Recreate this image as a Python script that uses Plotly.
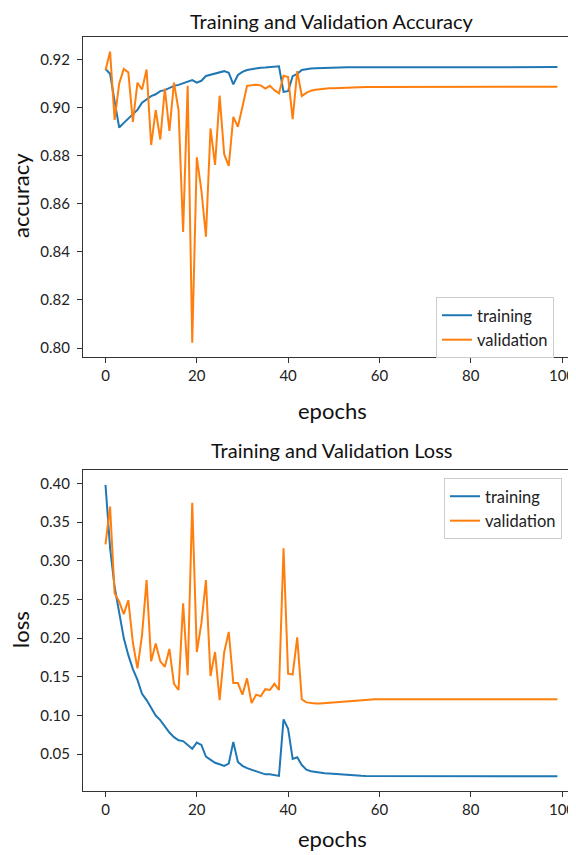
import plotly.graph_objects as go

epochs = list(range(100))

train_acc = [
    0.9160, 0.9140, 0.9025, 0.8917, 0.8936, 0.8953, 0.8972, 0.8990, 0.9020, 0.9035,
    0.9047, 0.9055, 0.9068, 0.9072, 0.9082, 0.9090, 0.9094, 0.9100, 0.9105, 0.9114,
    0.9103, 0.9111, 0.9131, 0.9136, 0.9144, 0.9147, 0.9151, 0.9144, 0.9096, 0.9135,
    0.9148, 0.9156, 0.9160, 0.9164, 0.9165, 0.9166, 0.9168, 0.9169, 0.9171, 0.9065,
    0.9068, 0.9130, 0.9140, 0.9156, 0.9160, 0.9162, 0.9163, 0.9164, 0.9165, 0.9165,
    0.9166, 0.9166, 0.9166, 0.9167, 0.9167, 0.9167, 0.9168, 0.9168, 0.9168, 0.9168,
    0.9168, 0.9168, 0.9168, 0.9168, 0.9168, 0.9168, 0.9168, 0.9168, 0.9168, 0.9168,
    0.9168, 0.9168, 0.9168, 0.9168, 0.9168, 0.9168, 0.9168, 0.9168, 0.9168, 0.9168,
    0.9168, 0.9168, 0.9168, 0.9168, 0.9168, 0.9168, 0.9168, 0.9168, 0.9168, 0.9168,
    0.9168, 0.9168, 0.9168, 0.9168, 0.9168, 0.9168, 0.9168, 0.9168, 0.9168, 0.9168,
]

val_acc = [
    0.9155, 0.9232, 0.8948, 0.9100, 0.9160, 0.9146, 0.8940, 0.9103, 0.9075, 0.9158,
    0.8844, 0.8989, 0.8867, 0.9079, 0.8903, 0.9103, 0.8989, 0.8483, 0.9090, 0.8022,
    0.8793, 0.8657, 0.8463, 0.8913, 0.8761, 0.9049, 0.8806, 0.8757, 0.8961, 0.8920,
    0.9003, 0.9090, 0.9092, 0.9095, 0.9092, 0.9079, 0.9090, 0.9072, 0.9059, 0.9132,
    0.9127, 0.8952, 0.9151, 0.9048, 0.9061, 0.9070, 0.9074, 0.9077, 0.9079, 0.9080,
    0.9080, 0.9081, 0.9082, 0.9083, 0.9083, 0.9084, 0.9084, 0.9085, 0.9085, 0.9085,
    0.9085, 0.9086, 0.9086, 0.9086, 0.9086, 0.9086, 0.9086, 0.9086, 0.9086, 0.9086,
    0.9086, 0.9086, 0.9086, 0.9086, 0.9086, 0.9086, 0.9086, 0.9086, 0.9086, 0.9086,
    0.9086, 0.9086, 0.9086, 0.9086, 0.9086, 0.9086, 0.9086, 0.9086, 0.9086, 0.9086,
    0.9086, 0.9086, 0.9086, 0.9086, 0.9086, 0.9086, 0.9086, 0.9086, 0.9086, 0.9086,
]

train_loss = [
    0.398, 0.317, 0.266, 0.232, 0.200, 0.178, 0.160, 0.146, 0.128, 0.120,
    0.109, 0.100, 0.094, 0.086, 0.078, 0.072, 0.068, 0.067, 0.062, 0.057,
    0.065, 0.062, 0.047, 0.043, 0.039, 0.037, 0.035, 0.038, 0.066, 0.040,
    0.035, 0.032, 0.030, 0.028, 0.026, 0.024, 0.024, 0.023, 0.022, 0.095,
    0.083, 0.044, 0.046, 0.036, 0.030, 0.028, 0.027, 0.026, 0.0255, 0.025,
    0.0245, 0.024, 0.0235, 0.023, 0.0228, 0.0225, 0.0222, 0.022, 0.022, 0.022,
    0.022, 0.022, 0.022, 0.022, 0.022, 0.022, 0.022, 0.022, 0.022, 0.022,
    0.0218, 0.0218, 0.0218, 0.0218, 0.0218, 0.0218, 0.0218, 0.0218, 0.0218, 0.0218,
    0.0216, 0.0216, 0.0216, 0.0216, 0.0216, 0.0216, 0.0216, 0.0216, 0.0216, 0.0216,
    0.0216, 0.0216, 0.0216, 0.0216, 0.0216, 0.0216, 0.0216, 0.0216, 0.0216, 0.0216,
]

val_loss = [
    0.321, 0.370, 0.258, 0.247, 0.231, 0.249, 0.194, 0.161, 0.204, 0.275,
    0.170, 0.193, 0.170, 0.163, 0.186, 0.141, 0.133, 0.245, 0.152, 0.375,
    0.182, 0.219, 0.275, 0.151, 0.182, 0.120, 0.182, 0.208, 0.142, 0.142,
    0.127, 0.148, 0.116, 0.127, 0.125, 0.134, 0.133, 0.141, 0.133, 0.316,
    0.154, 0.153, 0.201, 0.121, 0.117, 0.116, 0.1155, 0.1155, 0.116, 0.1165,
    0.117, 0.1175, 0.118, 0.1185, 0.119, 0.1195, 0.120, 0.1205, 0.121, 0.121,
    0.121, 0.121, 0.121, 0.121, 0.121, 0.121, 0.121, 0.121, 0.121, 0.121,
    0.121, 0.121, 0.121, 0.121, 0.121, 0.121, 0.121, 0.121, 0.121, 0.121,
    0.121, 0.121, 0.121, 0.121, 0.121, 0.121, 0.121, 0.121, 0.121, 0.121,
    0.121, 0.121, 0.121, 0.121, 0.121, 0.121, 0.121, 0.121, 0.121, 0.121,
]

acc_ticks = [0.80, 0.82, 0.84, 0.86, 0.88, 0.90, 0.92]
loss_ticks = [0.05, 0.10, 0.15, 0.20, 0.25, 0.30, 0.35, 0.40]
epoch_ticks = [0, 20, 40, 60, 80, 100]

BLUE = "#1f77b4"
ORANGE = "#ff7f0e"
FONT = "Lato, 'Open Sans', sans-serif"

# page has an 8px body margin: figure size and positions are offset accordingly
OFF = 8
W, H = 576 - OFF, 855 - OFF


def px(x):
    return (x - OFF) / W


def py(y):
    return 1 - (y - OFF) / H


fig = go.Figure()
fig.add_trace(go.Scatter(x=epochs, y=train_acc, mode="lines", name="training",
                         line=dict(color=BLUE, width=2), xaxis="x", yaxis="y", legend="legend"))
fig.add_trace(go.Scatter(x=epochs, y=val_acc, mode="lines", name="validation",
                         line=dict(color=ORANGE, width=2), xaxis="x", yaxis="y", legend="legend"))
fig.add_trace(go.Scatter(x=epochs, y=train_loss, mode="lines", name="training",
                         line=dict(color=BLUE, width=2), xaxis="x2", yaxis="y2", legend="legend2"))
fig.add_trace(go.Scatter(x=epochs, y=val_loss, mode="lines", name="validation",
                         line=dict(color=ORANGE, width=2), xaxis="x2", yaxis="y2", legend="legend2"))

x0 = 105.5
ppe = 4.565
xr = [(83 - x0) / ppe, (576 - x0) / ppe]

axis_common = dict(showgrid=False, zeroline=False, showline=True, linecolor="#333333", linewidth=1.2,
                   ticks="outside", ticklen=5, tickwidth=1, tickcolor="#333333",
                   tickfont=dict(family=FONT, size=15, color="#222222"), automargin=False)

top_dom = [py(356.5), py(37)]
bot_dom = [py(791), py(470)]
xdom = [px(83), 1.0]

legend_style = dict(xanchor="left", yanchor="top",
                    bgcolor="rgba(255,255,255,0.85)", bordercolor="#cccccc", borderwidth=1,
                    font=dict(family=FONT, size=16.5, color="#222222"))

fig.update_layout(
    width=W, height=H,
    margin=dict(l=0, r=0, t=0, b=0),
    paper_bgcolor="white", plot_bgcolor="white",
    font=dict(family=FONT, color="#222222"),
    xaxis=dict(domain=xdom, anchor="y", range=xr, tickvals=epoch_ticks, mirror=True, **axis_common),
    yaxis=dict(domain=top_dom, anchor="x", range=[0.7965, 0.9293], tickvals=acc_ticks,
               tickformat=".2f", ticklabelstandoff=4, **axis_common),
    xaxis2=dict(domain=xdom, anchor="y2", range=xr, tickvals=epoch_ticks, mirror=True, **axis_common),
    yaxis2=dict(domain=bot_dom, anchor="x2", range=[0.0025, 0.4172], tickvals=loss_ticks,
                tickformat=".2f", ticklabelstandoff=4, **axis_common),
    legend=dict(x=px(436), y=py(297), **legend_style),
    legend2=dict(x=px(444), y=py(478), **legend_style),
)

cx = px(332)
annos = [
    dict(text="Training and Validation Accuracy", x=cx, y=py(21), size=20, angle=0),
    dict(text="epochs", x=cx, y=py(410), size=22, angle=0),
    dict(text="accuracy", x=px(20), y=py(196), size=22, angle=-90),
    dict(text="Training and Validation Loss", x=cx, y=py(450), size=20, angle=0),
    dict(text="epochs", x=cx, y=py(838), size=22, angle=0),
    dict(text="loss", x=px(20), y=py(630), size=22, angle=-90),
]
for a in annos:
    fig.add_annotation(text=a["text"], x=a["x"], y=a["y"], xref="paper", yref="paper",
                       xanchor="center", yanchor="middle", showarrow=False, textangle=a["angle"],
                       font=dict(family=FONT, size=a["size"], color="#111111"))

fig.write_html("out.html")
